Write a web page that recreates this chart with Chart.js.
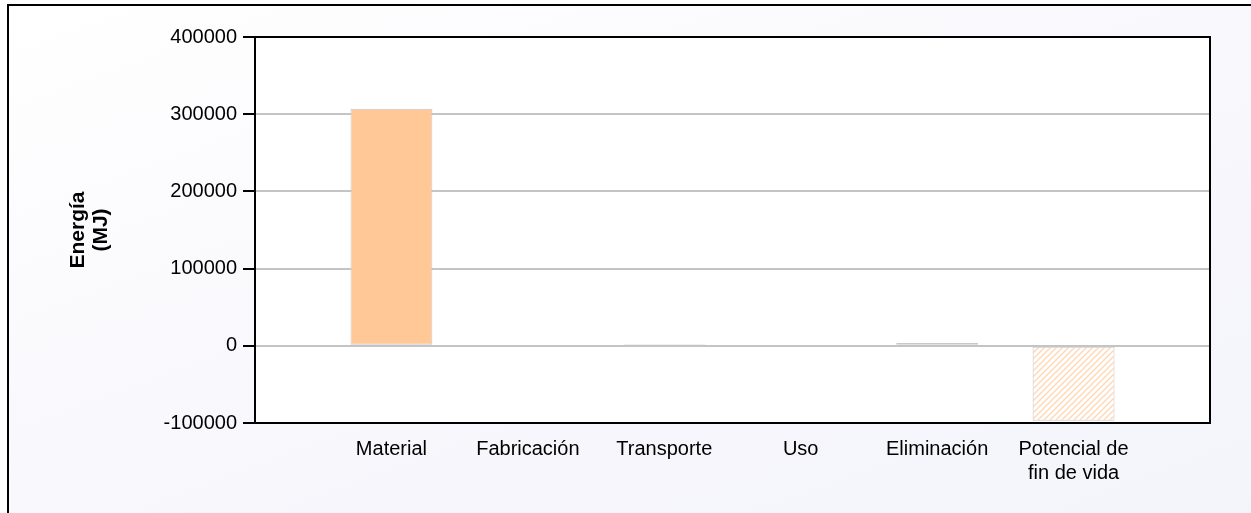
<!DOCTYPE html>
<html lang="es">
<head>
<meta charset="utf-8">
<title>Energía (MJ)</title>
<script src="https://cdn.jsdelivr.net/npm/chart.js@4/dist/chart.umd.min.js"></script>
<style>
    html, body {
        margin: 0;
        padding: 0;
        width: 1251px;
        height: 513px;
        overflow: hidden;
        background: #ffffff;
    }
    .marco {
        position: absolute;
        left: 7px;
        top: 4px;
        width: 1300px;
        height: 600px;
        border: 2px solid #000;
        background: linear-gradient(160deg, #ffffff 0%, #f6f6fc 60%, #f3f3fb 100%);
    }
    #grafico {
        position: absolute;
        left: 0;
        top: 0;
    }
</style>
</head>
<body>
<div class="marco"></div>
<canvas id="grafico" width="1251" height="513"></canvas>
<script>
// DATOS
const categorias = ['Material', 'Fabricación', 'Transporte', 'Uso', 'Eliminación', ['Potencial de', 'fin de vida']];
const energia = [307000, 0, 2000, 0, 3500, -97000];
const ticksY = [-100000, 0, 100000, 200000, 300000, 400000];

// barra rayada para el potencial de fin de vida
function rayado() {
    const c = document.createElement('canvas');
    c.width = 6;
    c.height = 6;
    const g = c.getContext('2d');
    g.fillStyle = '#ffffff';
    g.fillRect(0, 0, 6, 6);
    g.strokeStyle = '#ffd7b4';
    g.lineWidth = 1.4;
    g.beginPath();
    g.moveTo(-1, 7); g.lineTo(7, -1);
    g.moveTo(-4, 4); g.lineTo(4, -4);
    g.moveTo(2, 10); g.lineTo(10, 2);
    g.stroke();
    return g.createPattern(c, 'repeat');
}

const colores = categorias.map((c, i) => i === categorias.length - 1 ? rayado() : '#ffc896');

// huecos a los lados del eje x
const etiquetas = [''].concat(categorias, ['']);
const valores = [null].concat(energia, [null]);
const fondos = ['#ffc896'].concat(colores, ['#ffc896']);

const fuente = 'Liberation Sans, Arial, sans-serif';

// fondo blanco y marco negro del área de trazado
const marcoArea = {
    id: 'marcoArea',
    beforeDraw(chart) {
        const { ctx, chartArea: a } = chart;
        ctx.save();
        ctx.fillStyle = '#ffffff';
        ctx.fillRect(a.left, a.top, a.right - a.left, a.bottom - a.top);
        ctx.restore();
    },
    afterDraw(chart) {
        const { ctx, chartArea: a } = chart;
        ctx.save();
        ctx.strokeStyle = '#000';
        ctx.lineWidth = 2;
        ctx.strokeRect(a.left, a.top, a.right - a.left, a.bottom - a.top);
        ctx.restore();
    }
};

new Chart(document.getElementById('grafico'), {
    type: 'bar',
    data: {
        labels: etiquetas,
        datasets: [{
            data: valores,
            backgroundColor: fondos,
            borderColor: '#c8c8c8',
            borderWidth: 1,
            borderSkipped: false,
            barPercentage: 0.6,
            categoryPercentage: 1
        }]
    },
    options: {
        responsive: false,
        animation: false,
        layout: { padding: { left: 10, top: 37, right: 41, bottom: 0 } },
        plugins: {
            legend: { display: false },
            tooltip: { enabled: false }
        },
        scales: {
            x: {
                offset: false,
                grid: { display: false },
                border: { color: '#000', width: 2 },
                ticks: {
                    color: '#000',
                    padding: 6,
                    maxRotation: 0,
                    autoSkip: false,
                    font: { family: fuente, size: 20, lineHeight: 1.2 }
                },
                afterFit(scale) { scale.height = 90; }
            },
            y: {
                min: ticksY[0],
                max: ticksY[ticksY.length - 1],
                afterBuildTicks(scale) { scale.ticks = ticksY.map(v => ({ value: v })); },
                grid: { color: '#c4c4c4', lineWidth: 2, tickColor: '#000', tickLength: 12 },
                border: { color: '#000', width: 2 },
                ticks: {
                    color: '#000',
                    padding: 6,
                    font: { family: fuente, size: 20 },
                    callback: v => String(v)
                },
                title: {
                    display: true,
                    text: ['Energía', '(MJ)'],
                    color: '#000',
                    padding: { top: 57, bottom: 0 },
                    font: { family: fuente, size: 21, weight: 'bold', lineHeight: 1.1 }
                },
                afterFit(scale) { scale.width = 245; }
            }
        }
    },
    plugins: [marcoArea]
});
</script>
</body>
</html>
